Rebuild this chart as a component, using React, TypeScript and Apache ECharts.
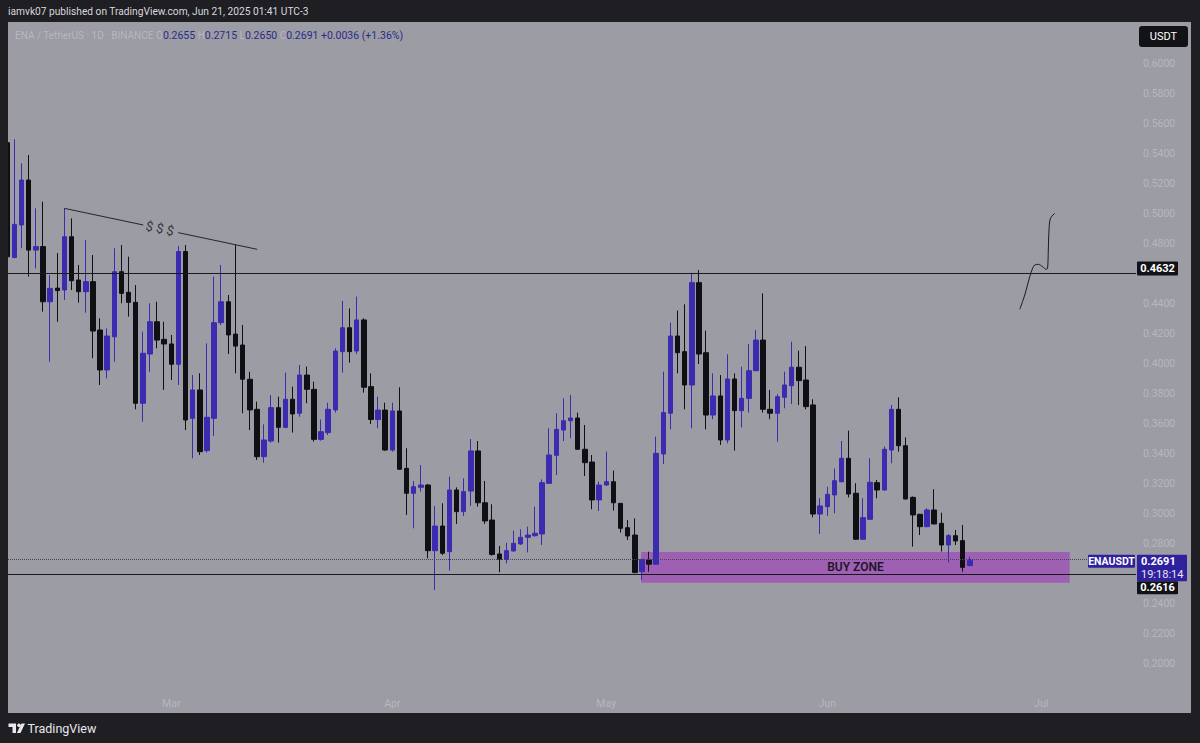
import React, { useRef, useEffect } from 'react';
import * as echarts from 'echarts';

// ENA / USDT daily candles. Day 0 = Feb 7 2025, first row is Feb 6 (cut by the left edge)
const firstDay = -1;
// [open, close, low, high]
const ohlc: number[][] = [
  [0.547, 0.471, 0.469, 0.55],
  [0.4706, 0.4926, 0.47, 0.5492],
  [0.4922, 0.5221, 0.4767, 0.5333],
  [0.5221, 0.4755, 0.4578, 0.5388],
  [0.4755, 0.4778, 0.4633, 0.5033],
  [0.4778, 0.4411, 0.4345, 0.5077],
  [0.4411, 0.45, 0.4012, 0.4589],
  [0.4502, 0.4485, 0.4278, 0.4735],
  [0.4489, 0.4844, 0.4423, 0.5033],
  [0.4844, 0.4551, 0.4489, 0.4966],
  [0.4556, 0.4478, 0.4405, 0.4656],
  [0.4478, 0.4545, 0.4338, 0.4822],
  [0.4545, 0.4216, 0.4035, 0.4722],
  [0.4223, 0.3957, 0.3857, 0.4301],
  [0.3957, 0.4183, 0.3901, 0.4234],
  [0.4178, 0.4611, 0.4012, 0.4767],
  [0.4611, 0.4467, 0.4401, 0.4789],
  [0.4474, 0.4407, 0.4312, 0.4711],
  [0.4407, 0.3735, 0.3695, 0.4522],
  [0.3735, 0.4068, 0.3613, 0.4212],
  [0.4063, 0.4278, 0.3945, 0.4401],
  [0.4278, 0.4156, 0.4101, 0.4411],
  [0.4161, 0.413, 0.3824, 0.4278],
  [0.413, 0.3995, 0.389, 0.419],
  [0.3995, 0.4745, 0.3857, 0.4782],
  [0.4745, 0.3624, 0.3557, 0.4789],
  [0.3635, 0.3824, 0.3369, 0.3923],
  [0.3824, 0.3413, 0.3391, 0.3935],
  [0.342, 0.3642, 0.3407, 0.4134],
  [0.3635, 0.4272, 0.3517, 0.4578],
  [0.4272, 0.4411, 0.4256, 0.4656],
  [0.4411, 0.419, 0.4063, 0.4456],
  [0.4196, 0.4116, 0.3935, 0.4789],
  [0.4123, 0.3895, 0.3669, 0.4256],
  [0.3895, 0.3691, 0.3557, 0.3945],
  [0.3695, 0.338, 0.3358, 0.3746],
  [0.338, 0.3491, 0.334, 0.3595],
  [0.3484, 0.3706, 0.3473, 0.379],
  [0.3706, 0.3575, 0.3473, 0.3779],
  [0.3575, 0.3762, 0.3569, 0.3939],
  [0.3762, 0.3664, 0.354, 0.3846],
  [0.3669, 0.3923, 0.3646, 0.399],
  [0.3923, 0.3828, 0.3735, 0.3979],
  [0.3828, 0.3495, 0.348, 0.3879],
  [0.3495, 0.3546, 0.3486, 0.3627],
  [0.354, 0.3695, 0.3524, 0.3739],
  [0.3691, 0.4083, 0.3673, 0.4101],
  [0.4079, 0.4238, 0.3939, 0.4416],
  [0.4238, 0.4079, 0.4005, 0.4367],
  [0.4083, 0.429, 0.4063, 0.4445],
  [0.429, 0.3842, 0.3806, 0.4301],
  [0.3846, 0.3627, 0.3597, 0.3935],
  [0.3627, 0.369, 0.3569, 0.3779],
  [0.369, 0.3424, 0.3418, 0.3739],
  [0.3424, 0.3684, 0.3413, 0.3739],
  [0.3684, 0.3296, 0.3291, 0.3842],
  [0.3302, 0.3136, 0.2992, 0.3436],
  [0.3136, 0.318, 0.2903, 0.3218],
  [0.3176, 0.3191, 0.3147, 0.3324],
  [0.3191, 0.2754, 0.2703, 0.3198],
  [0.2754, 0.2918, 0.2492, 0.3052],
  [0.2918, 0.2737, 0.2725, 0.307],
  [0.2748, 0.3158, 0.2621, 0.3247],
  [0.3158, 0.3014, 0.2932, 0.3176],
  [0.3014, 0.3147, 0.2985, 0.3236],
  [0.3151, 0.3418, 0.3052, 0.3497],
  [0.3418, 0.3073, 0.3047, 0.3484],
  [0.3073, 0.2952, 0.2932, 0.3218],
  [0.2958, 0.2729, 0.2721, 0.3063],
  [0.2732, 0.2696, 0.261, 0.2785],
  [0.2696, 0.2754, 0.267, 0.2807],
  [0.2752, 0.2803, 0.2748, 0.2887],
  [0.2799, 0.2843, 0.2792, 0.2896],
  [0.2843, 0.2858, 0.2743, 0.2914],
  [0.2854, 0.287, 0.2847, 0.3047],
  [0.2865, 0.3207, 0.2792, 0.3229],
  [0.3202, 0.3391, 0.32, 0.3569],
  [0.3389, 0.3562, 0.3258, 0.3669],
  [0.3557, 0.3619, 0.3484, 0.3768],
  [0.3619, 0.3637, 0.3502, 0.379],
  [0.3637, 0.3429, 0.3425, 0.3673],
  [0.3429, 0.334, 0.3251, 0.3591],
  [0.3344, 0.3092, 0.303, 0.3391],
  [0.3092, 0.3191, 0.3018, 0.3213],
  [0.3191, 0.3213, 0.3185, 0.3413],
  [0.3213, 0.3073, 0.3021, 0.3287],
  [0.3069, 0.2903, 0.2874, 0.3069],
  [0.2907, 0.2852, 0.2825, 0.2958],
  [0.2858, 0.2608, 0.2604, 0.2969],
  [0.2614, 0.2696, 0.2559, 0.27],
  [0.2692, 0.2664, 0.2614, 0.2747],
  [0.2664, 0.3402, 0.266, 0.3513],
  [0.3398, 0.3673, 0.3331, 0.3945],
  [0.3669, 0.4183, 0.3562, 0.4272],
  [0.4183, 0.4072, 0.3935, 0.4352],
  [0.4079, 0.3857, 0.3695, 0.4394],
  [0.3857, 0.4538, 0.3569, 0.4604],
  [0.4538, 0.4063, 0.3997, 0.4622],
  [0.4072, 0.3657, 0.3562, 0.4219],
  [0.3657, 0.3784, 0.3629, 0.3935],
  [0.3784, 0.3491, 0.3458, 0.3923],
  [0.3491, 0.3897, 0.3469, 0.4061],
  [0.3897, 0.3686, 0.342, 0.3935],
  [0.3686, 0.3768, 0.3575, 0.3979],
  [0.3768, 0.3952, 0.3673, 0.4129],
  [0.3952, 0.4156, 0.395, 0.4223],
  [0.4156, 0.3695, 0.3673, 0.4467],
  [0.3695, 0.3669, 0.3629, 0.3824],
  [0.3669, 0.3779, 0.348, 0.3795],
  [0.3775, 0.3857, 0.3702, 0.3945],
  [0.3852, 0.3975, 0.373, 0.4145],
  [0.3975, 0.3886, 0.3724, 0.4085],
  [0.389, 0.3713, 0.3695, 0.4116],
  [0.3724, 0.2998, 0.2976, 0.3762],
  [0.2998, 0.3052, 0.2865, 0.3103],
  [0.3047, 0.3129, 0.2985, 0.318],
  [0.3125, 0.322, 0.3003, 0.3302],
  [0.3213, 0.3369, 0.321, 0.3484],
  [0.3369, 0.3131, 0.3109, 0.3553],
  [0.3136, 0.283, 0.2825, 0.3203],
  [0.283, 0.2974, 0.2828, 0.3103],
  [0.2963, 0.3209, 0.296, 0.3369],
  [0.3207, 0.3158, 0.3103, 0.3225],
  [0.3158, 0.3429, 0.3155, 0.3447],
  [0.3424, 0.3695, 0.3336, 0.3724],
  [0.3695, 0.3453, 0.3413, 0.3775],
  [0.3453, 0.3098, 0.3095, 0.3509],
  [0.3109, 0.2992, 0.2781, 0.3115],
  [0.2996, 0.2914, 0.2858, 0.3],
  [0.2914, 0.3025, 0.291, 0.3036],
  [0.3025, 0.2932, 0.293, 0.3163],
  [0.2936, 0.2792, 0.2748, 0.3007],
  [0.2792, 0.2854, 0.2676, 0.2865],
  [0.2854, 0.2819, 0.2792, 0.2892],
  [0.2821, 0.2643, 0.2614, 0.2925],
  [0.2655, 0.2691, 0.265, 0.2715],
];

const monthDays = [22, 53, 83, 114, 144];
const monthLabels = ['Mar', 'Apr', 'May', 'Jun', 'Jul'];

const resistance = 0.4632;
const support = 0.2616;
const buyZoneDays = [87.9, 148];
const buyZonePrices = [0.2746, 0.254];

// drawings
const trendLeft = [[6.98, 0.5033], [18.06, 0.4922]];
const trendRight = [[22.97, 0.4871], [34.05, 0.476]];
const dollarsAt = [20.4, 0.4899];
const projection = [
  [141.0, 0.4361], [141.7, 0.4456], [142.4, 0.4578], [142.8, 0.4634],
  [143.1, 0.4656], [143.6, 0.466], [144.2, 0.4644], [144.7, 0.4627],
  [144.9, 0.4634], [145.0, 0.4755], [145.1, 0.4889], [145.3, 0.4966], [145.9, 0.5],
];

const UP = '#3a2bb0';
const DOWN = '#101014';
const FRAME = '#1f1e23';
const PANEL = '#9b9ca4';
const FAINT = '#b7b8bf';
const LABEL_BLUE = '#2f219e';
const FONT = 'Roboto, "Open Sans", sans-serif';

const App: React.FC = () => {
  const chartRef = useRef<HTMLDivElement>(null);

  useEffect(() => {
    let chart: echarts.ECharts | null = null;
    if (chartRef.current) {
      chart = echarts.init(chartRef.current, undefined, { renderer: 'svg' });
      const last = ohlc[ohlc.length - 1];
      const lastClose = last[1];
      const change = last[1] - last[0];

      const option: echarts.EChartsOption = {
        animation: false,
        backgroundColor: FRAME,
        grid: { left: 0, right: 64, top: 33, bottom: 49 },
        xAxis: {
          type: 'value',
          min: -2.03,
          max: 157.3,
          axisLine: { show: false },
          axisTick: { show: false },
          splitLine: { show: false },
          axisLabel: {
            customValues: monthDays,
            formatter: (v: number) => monthLabels[monthDays.indexOf(Math.round(v))] ?? '',
            color: FAINT,
            fontSize: 10.5,
            fontFamily: FONT,
            margin: 4,
          },
        } as any,
        yAxis: {
          type: 'value',
          position: 'right',
          min: 0.18,
          max: 0.62,
          interval: 0.02,
          scale: true,
          axisLine: { show: false },
          axisTick: { show: false },
          splitLine: { show: false },
          axisLabel: {
            showMinLabel: false,
            showMaxLabel: false,
            margin: 7,
            color: FAINT,
            fontSize: 10.5,
            fontFamily: FONT,
            formatter: (v: number) => {
              const c = Math.round(v * 100);
              return c === 46 || c === 26 ? '' : v.toFixed(4);
            },
          },
        },
        series: [
          {
            type: 'candlestick',
            data: ohlc.map((d, i) => [i + firstDay, ...d]),
            encode: { x: 0, y: [1, 2, 3, 4] },
            barWidth: 5,
            itemStyle: {
              color: UP,
              color0: DOWN,
              borderColor: UP,
              borderColor0: DOWN,
              borderWidth: 1,
            },
            markLine: {
              silent: true,
              symbol: 'none',
              label: { show: false },
              data: [
                { yAxis: resistance, lineStyle: { color: '#18181d', width: 1, type: 'solid' } },
                { yAxis: support, lineStyle: { color: '#18181d', width: 1, type: 'solid' } },
                { yAxis: lastClose, lineStyle: { color: '#44444e', width: 1, type: 'dotted' } },
              ],
            },
            markArea: {
              silent: true,
              itemStyle: { color: 'rgba(160, 48, 192, 0.55)' },
              label: {
                show: true,
                position: 'inside',
                color: '#1d1628',
                fontSize: 12,
                fontWeight: 600,
                fontFamily: FONT,
              },
              data: [
                [
                  { name: 'BUY ZONE', coord: [buyZoneDays[0], buyZonePrices[0]] },
                  { coord: [buyZoneDays[1], buyZonePrices[1]] },
                ],
              ],
            },
          } as any,
          {
            type: 'line',
            data: trendLeft,
            symbol: 'none',
            lineStyle: { color: '#25252c', width: 1 },
          },
          {
            type: 'line',
            data: trendRight,
            symbol: 'none',
            lineStyle: { color: '#25252c', width: 1 },
          },
          {
            type: 'scatter',
            data: [dollarsAt],
            symbolSize: 1,
            itemStyle: { color: 'transparent' },
            label: {
              show: true,
              position: 'inside',
              formatter: '$ $ $',
              rotate: -12,
              color: '#141418',
              fontSize: 13,
              fontFamily: FONT,
            },
          },
          {
            type: 'line',
            data: projection,
            symbol: 'none',
            smooth: 0.3,
            lineStyle: { color: '#1a1a20', width: 1 },
          },
        ],
      };
      chart.setOption(option);

      const y = (p: number) => chart!.convertToPixel({ yAxisIndex: 0 }, p) as number;
      const yRes = y(resistance);
      const yLast = y(lastClose);

      chart.setOption({
        graphic: {
          elements: [
            { type: 'rect', z: -1, shape: { x: 8, y: 22, width: 1183, height: 691 }, style: { fill: PANEL } },
            { type: 'rect', z: 100, shape: { x: 0, y: 22, width: 8, height: 691 }, style: { fill: FRAME } },
            {
              type: 'text', z: 100, x: 8, y: 11,
              style: {
                text: 'iamvk07 published on TradingView.com, Jun 21, 2025 01:41 UTC-3',
                fill: '#d9d9de', fontSize: 10.2, fontFamily: FONT, verticalAlign: 'middle',
              },
            },
            {
              type: 'text', z: 100, x: 15, y: 35,
              style: {
                text:
                  '{f|ENA / TetherUS · 1D · BINANCE} {f|O}{v|' + last[0].toFixed(4) + '} {f|H}{v|' +
                  last[3].toFixed(4) + '} {f|L}{v|' + last[2].toFixed(4) + '} {f|C}{v|' +
                  last[1].toFixed(4) + '} {v|+' + change.toFixed(4) + ' (+' +
                  ((change / last[0]) * 100).toFixed(2) + '%)}',
                verticalAlign: 'middle',
                fontSize: 10,
                fontFamily: FONT,
                rich: {
                  f: { fill: FAINT, fontSize: 10, fontFamily: FONT },
                  v: { fill: '#2c2a8a', fontSize: 10.5, fontFamily: FONT },
                },
              },
            },
            { type: 'rect', z: 100, shape: { x: 1139, y: 26, width: 49, height: 21, r: 3 }, style: { fill: '#131317' } },
            {
              type: 'text', z: 101, x: 1163.5, y: 36.5,
              style: { text: 'USDT', fill: '#ffffff', fontSize: 11, fontFamily: FONT, align: 'center', verticalAlign: 'middle' },
            },
            // price tags
            { type: 'rect', z: 100, shape: { x: 1137, y: yRes - 7, width: 41, height: 14, r: 1 }, style: { fill: '#121216' } },
            {
              type: 'text', z: 101, x: 1157.5, y: yRes,
              style: { text: resistance.toFixed(4), fill: '#ffffff', fontSize: 11, fontWeight: 'bold', fontFamily: FONT, align: 'center', verticalAlign: 'middle' },
            },
            { type: 'rect', z: 100, shape: { x: 1088, y: yLast - 5.5, width: 47, height: 13, r: 1 }, style: { fill: LABEL_BLUE } },
            {
              type: 'text', z: 101, x: 1111.5, y: yLast + 1,
              style: { text: 'ENAUSDT', fill: '#ffffff', fontSize: 10.5, fontWeight: 'bold', fontFamily: FONT, align: 'center', verticalAlign: 'middle' },
            },
            { type: 'rect', z: 100, shape: { x: 1137, y: yLast - 5.5, width: 50, height: 26.5, r: 1 }, style: { fill: LABEL_BLUE } },
            {
              type: 'text', z: 101, x: 1141, y: yLast + 1,
              style: { text: lastClose.toFixed(4), fill: '#ffffff', fontSize: 11, fontWeight: 'bold', fontFamily: FONT, verticalAlign: 'middle' },
            },
            {
              type: 'text', z: 101, x: 1141, y: yLast + 14,
              style: { text: '19:18:14', fill: '#e6e4f6', fontSize: 11, fontFamily: FONT, verticalAlign: 'middle' },
            },
            { type: 'rect', z: 100, shape: { x: 1137, y: yLast + 21, width: 41, height: 13, r: 1 }, style: { fill: '#121216' } },
            {
              type: 'text', z: 101, x: 1157.5, y: yLast + 27.5,
              style: { text: support.toFixed(4), fill: '#ffffff', fontSize: 11, fontWeight: 'bold', fontFamily: FONT, align: 'center', verticalAlign: 'middle' },
            },
            // TradingView logo
            {
              type: 'polygon', z: 100,
              shape: { points: [[8.5, 723.5], [16, 723.5], [16, 733], [12.5, 733], [12.5, 727], [8.5, 727]] },
              style: { fill: '#e8e8ec' },
            },
            { type: 'circle', z: 100, shape: { cx: 19, cy: 725.3, r: 1.8 }, style: { fill: '#e8e8ec' } },
            {
              type: 'polygon', z: 100,
              shape: { points: [[21.5, 723.5], [25, 723.5], [20.5, 733], [16.8, 733]] },
              style: { fill: '#e8e8ec' },
            },
            {
              type: 'text', z: 100, x: 27.5, y: 728.5,
              style: { text: 'TradingView', fill: '#e8e8ec', fontSize: 12.5, fontFamily: FONT, verticalAlign: 'middle' },
            },
          ],
        },
      } as any);
    }

    return () => {
      if (chart) {
        chart.dispose();
      }
    };
  }, []);

  return (
    <div
      ref={chartRef}
      style={{ position: 'absolute', left: 0, top: 0, width: '1200px', height: '743px' }}
    />
  );
};

export default App;
